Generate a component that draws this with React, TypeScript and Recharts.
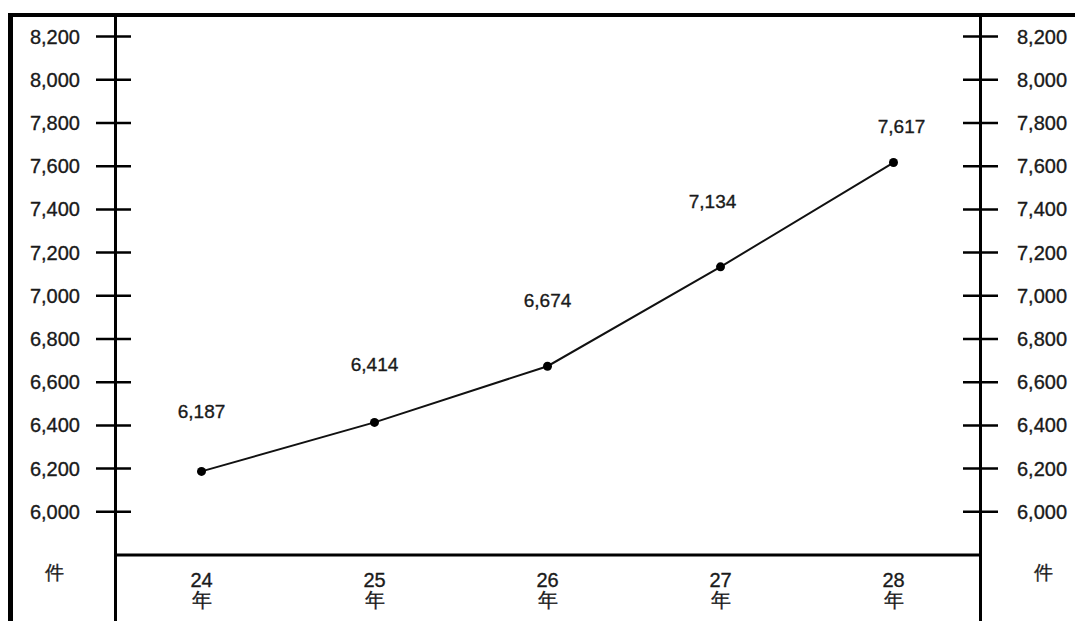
import { LineChart, Line, XAxis, YAxis, LabelList } from "recharts";

const years = ["24", "25", "26", "27", "28"];
const cases = [6187, 6414, 6674, 7134, 7617];
const yTicks = [6000, 6200, 6400, 6600, 6800, 7000, 7200, 7400, 7600, 7800, 8000, 8200];

// how far each value label sits above its point (px), and a small sideways nudge
const labelLift = [60, 58, 66, 65, 36];
const labelNudge = [0, 0, 0, -8, 8];

const data = years.map((y, i) => ({ year: y, value: cases[i] }));

const font = "'Liberation Sans', Arial, Helvetica, sans-serif";
const ink = "#1a1a1a";
// the scan has slightly heavy text, so give glyphs a thin outline
const heavy = { stroke: ink, strokeWidth: 0.35 };

const fmt = (v: number) => v.toLocaleString("en-US");

const LeftTick = (props: any) => {
  const { x, y, payload } = props;
  return (
    <g>
      <line x1={x - 19} x2={x + 16} y1={y} y2={y} stroke="#000" strokeWidth={2.5} />
      <text x={x - 35} y={y} textAnchor="end" dominantBaseline="central" fontSize={20} fill={ink} fontFamily={font} {...heavy}>
        {fmt(payload.value)}
      </text>
    </g>
  );
};

const RightTick = (props: any) => {
  const { x, y, payload } = props;
  return (
    <g>
      <line x1={x - 17} x2={x + 18} y1={y} y2={y} stroke="#000" strokeWidth={2.5} />
      <text x={x + 37} y={y} textAnchor="start" dominantBaseline="central" fontSize={20} fill={ink} fontFamily={font} {...heavy}>
        {fmt(payload.value)}
      </text>
    </g>
  );
};

const YearTick = (props: any) => {
  const { x, y, payload } = props;
  return (
    <g fontFamily={font} fontSize={20} fill={ink} textAnchor="middle" {...heavy}>
      <text x={x} y={y + 25} dominantBaseline="central">{payload.value}</text>
      <text x={x} y={y + 45} dominantBaseline="central">年</text>
    </g>
  );
};

const ValueLabel = (props: any) => {
  const { x, y, value, index } = props;
  return (
    <text
      x={x + labelNudge[index]}
      y={y - labelLift[index]}
      textAnchor="middle"
      dominantBaseline="central"
      fontSize={19}
      fill={ink}
      fontFamily={font}
      {...heavy}
    >
      {fmt(value)}
    </text>
  );
};

const unitLabel = (cx: number) => (props: any) => {
  const { viewBox } = props;
  return (
    <text
      x={cx}
      y={viewBox.y + viewBox.height + 17}
      textAnchor="middle"
      dominantBaseline="central"
      fontSize={19}
      fill={ink}
      fontFamily={font}
      {...heavy}
    >
      件
    </text>
  );
};

const vline = (left: number, w: number) => (
  <div style={{ position: "absolute", left, top: 13, width: w, height: 608, background: "#000" }} />
);

export default function App() {
  return (
    <div style={{ position: "absolute", left: 0, top: 0, width: 1075, height: 621, background: "#fff", overflow: "hidden" }}>
      {/* frame */}
      <div style={{ position: "absolute", left: 8, top: 13, width: 1067, height: 4, background: "#000" }} />
      {vline(8, 5)}
      {vline(114, 3)}
      {vline(979, 3)}
      <div style={{ position: "absolute", left: 0, top: 0 }}>
        <LineChart width={1075} height={621} data={data} margin={{ top: 15, right: 0, bottom: 0, left: 0 }}>
          <XAxis
            dataKey="year"
            scale="band"
            axisLine={{ stroke: "#000", strokeWidth: 3 }}
            tickLine={false}
            tickSize={0}
            tickMargin={0}
            tick={<YearTick />}
            interval={0}
            height={66}
          />
          <YAxis
            yAxisId="left"
            orientation="left"
            width={115}
            domain={[5800, 8300]}
            ticks={yTicks}
            axisLine={false}
            tickLine={false}
            tickSize={0}
            tickMargin={0}
            tick={<LeftTick />}
            interval={0}
            label={{ content: unitLabel(54) }}
          />
          <YAxis
            yAxisId="right"
            orientation="right"
            width={95}
            domain={[5800, 8300]}
            ticks={yTicks}
            axisLine={false}
            tickLine={false}
            tickSize={0}
            tickMargin={0}
            tick={<RightTick />}
            interval={0}
            label={{ content: unitLabel(1043) }}
          />
          <Line
            yAxisId="right"
            dataKey="value"
            stroke="none"
            dot={false}
            activeDot={false}
            legendType="none"
            isAnimationActive={false}
          />
          <Line
            yAxisId="left"
            dataKey="value"
            stroke="#111"
            strokeWidth={2}
            dot={{ r: 4.5, fill: "#000", stroke: "#000", strokeWidth: 0 }}
            isAnimationActive={false}
          >
            <LabelList dataKey="value" content={<ValueLabel />} />
          </Line>
        </LineChart>
      </div>
    </div>
  );
}
